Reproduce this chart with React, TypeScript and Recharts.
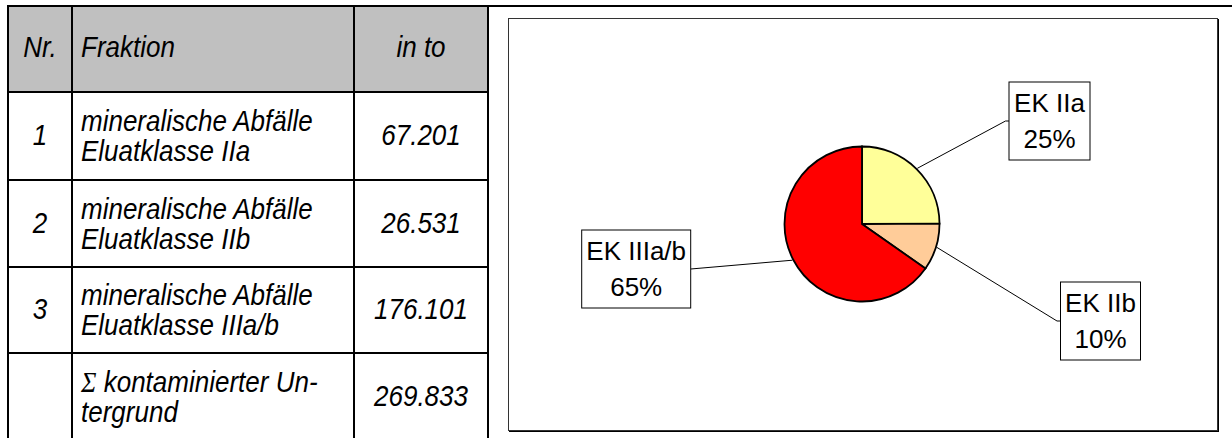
import { Cell, Pie, PieChart } from "recharts";

// Tonnage per fraction (t)
const categories = ["EK IIa", "EK IIb", "EK IIIa/b"];
const tonnages = [67201, 26531, 176101];
const sliceColors = ["#ffff99", "#ffcc99", "#ff0000"];

// Table text
const headers = ["Nr.", "Fraktion", "in to"];
const rowNumbers = ["1", "2", "3", ""];
const fractionLines = [
    ["mineralische Abfälle", "Eluatklasse IIa"],
    ["mineralische Abfälle", "Eluatklasse IIb"],
    ["mineralische Abfälle", "Eluatklasse IIIa/b"],
];
const totalLines = ["kontaminierter Un-", "tergrund"];

// table grid lines (px)
const COLS = [8, 72, 354, 488];
const ROWS = [6, 92, 180, 267, 353, 440];

// label boxes relative to pie centre: edge x (left or right edge) and centre y
const LABEL_BOXES = [
    { dx: 147, dy: -103, w: 81, side: "left" },
    { dx: 198.5, dy: 97, w: 80, side: "left" },
    { dx: -171.3, dy: 45, w: 109, side: "right" },
];
const BOX_H = 78;
const RADIAN = Math.PI / 180;

const pieData = categories.map((name, i) => ({ name, value: tonnages[i] }));

const fmt = (n: number) => String(n).replace(/\B(?=(\d{3})+(?!\d))/g, ".");

const renderLabel = (props: any) => {
    const { cx, cy, midAngle, outerRadius, percent, index, name } = props;
    const box = LABEL_BOXES[index];
    const sx = cx + (outerRadius + 1) * Math.cos(-midAngle * RADIAN);
    const sy = cy + (outerRadius + 1) * Math.sin(-midAngle * RADIAN);
    const ex = cx + box.dx;
    const ey = cy + box.dy;
    const left = box.side === "left" ? ex : ex - box.w;
    const mx = box.side === "left" ? ex - 3.5 : ex;
    return (
        <g key={`lbl-${index}`}>
            <polyline points={`${sx},${sy} ${mx},${ey} ${ex},${ey}`} fill="none" stroke="#000" strokeWidth={1} />
            <rect x={left} y={ey - BOX_H / 2} width={box.w} height={BOX_H} fill="#fff" stroke="#000" strokeWidth={1} />
            <text x={left + box.w / 2} y={ey - 9} textAnchor="middle" fontSize={26} fill="#000">
                {name}
            </text>
            <text x={left + box.w / 2} y={ey + 26.5} textAnchor="middle" fontSize={26} fill="#000">
                {`${Math.round(percent * 100)}%`}
            </text>
        </g>
    );
};

const Cellbox = ({ r, c, align = "center", shift = 0, children }: any) => (
    <div
        style={{
            position: "absolute",
            left: COLS[c] + 1,
            top: ROWS[r] + 1,
            width: COLS[c + 1] - COLS[c] - 2,
            height: ROWS[r + 1] - ROWS[r] - 2,
            display: "flex",
            alignItems: "center",
            justifyContent: align === "left" ? "flex-start" : "center",
            paddingLeft: align === "left" ? 8 : 0,
            paddingTop: shift > 0 ? shift * 2 : 0,
            paddingBottom: shift < 0 ? -shift * 2 : 0,
            boxSizing: "border-box",
        }}
    >
        <div style={{ textAlign: align, transform: "scaleY(1.1)" }}>{children}</div>
    </div>
);

export default function App() {
    const rows = [...fractionLines, null];
    return (
        <div
            style={{
                position: "fixed",
                left: 0,
                top: 0,
                width: 1232,
                height: 438,
                overflow: "hidden",
                background: "#fff",
                fontFamily: "'Liberation Sans', Arial, sans-serif",
                fontStyle: "italic",
                fontSize: 26,
                lineHeight: "27.3px",
                color: "#000",
            }}
        >
            {/* header background */}
            <div style={{ position: "absolute", left: COLS[0], top: ROWS[0], width: COLS[3] - COLS[0], height: ROWS[1] - ROWS[0], background: "#c0c0c0" }} />
            {headers.map((h, c) => (
                <Cellbox key={h} r={0} c={c} align={c === 1 ? "left" : "center"} shift={-1}>
                    {h}
                </Cellbox>
            ))}
            {rows.map((lines, i) => (
                <div key={i}>
                    <Cellbox r={i + 1} c={0}>{rowNumbers[i]}</Cellbox>
                    <Cellbox r={i + 1} c={1} align="left" shift={1.5}>
                        {lines ? (
                            <>
                                {lines[0]}
                                <br />
                                {lines[1]}
                            </>
                        ) : (
                            <>
                                <span style={{ fontFamily: "'Liberation Serif', serif" }}>Σ</span> {totalLines[0]}
                                <br />
                                {totalLines[1]}
                            </>
                        )}
                    </Cellbox>
                    <Cellbox r={i + 1} c={2}>{fmt(lines ? tonnages[i] : tonnages.reduce((a, b) => a + b, 0))}</Cellbox>
                </div>
            ))}
            {/* grid lines */}
            <div style={{ position: "absolute", left: 7, top: 5, width: 1232, height: 2, background: "#000" }} />
            {COLS.map((x) => (
                <div key={`v${x}`} style={{ position: "absolute", left: x - 1, top: 5, width: 2, height: 440, background: "#000" }} />
            ))}
            {ROWS.slice(1, 5).map((y) => (
                <div key={`h${y}`} style={{ position: "absolute", left: COLS[0] - 1, top: y - 1, width: COLS[3] - COLS[0] + 2, height: 2, background: "#000" }} />
            ))}

            {/* chart frame */}
            <div
                style={{
                    position: "absolute",
                    left: 508,
                    top: 18,
                    width: 710,
                    height: 413,
                    boxSizing: "border-box",
                    border: "1px solid #333",
                    boxShadow: "1px 1px 0 #000",
                }}
            />
            <div style={{ position: "absolute", left: 508, top: 18, fontStyle: "normal" }}>
                <PieChart width={710} height={413} margin={{ top: 0, right: 0, bottom: 0, left: 0 }}>
                    <Pie
                        data={pieData}
                        dataKey="value"
                        nameKey="name"
                        cx={354}
                        cy={206}
                        outerRadius={77.5}
                        startAngle={90}
                        endAngle={-270}
                        stroke="#000"
                        strokeWidth={1.8}
                        label={renderLabel}
                        labelLine={false}
                        isAnimationActive={false}
                    >
                        {pieData.map((d, i) => (
                            <Cell key={d.name} fill={sliceColors[i]} />
                        ))}
                    </Pie>
                </PieChart>
            </div>
        </div>
    );
}
